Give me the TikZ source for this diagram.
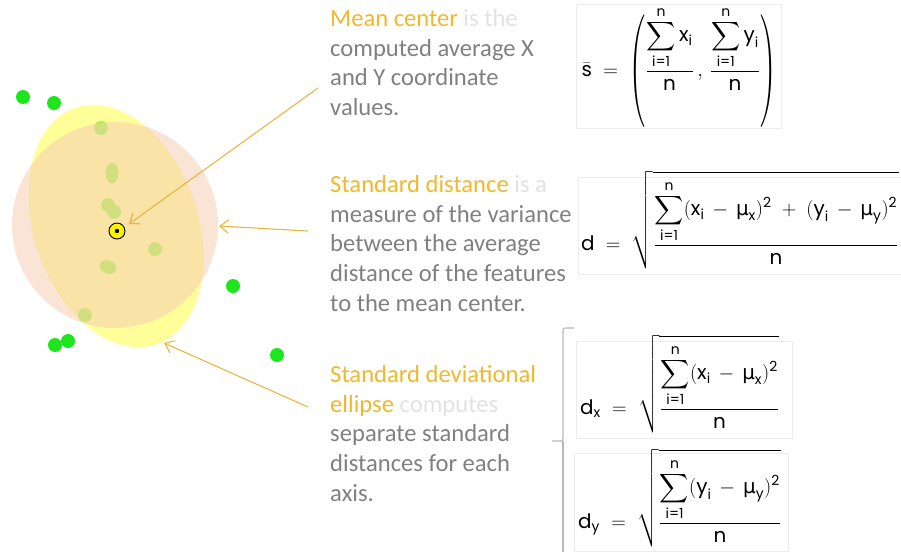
\documentclass[tikz,border=0pt]{standalone}
\usepackage{amsmath}
\usepackage{graphicx}
\usepackage{fontspec}
\setmainfont{Carlito}
\newfontfamily\formfont{Poppins}
\newfontfamily\mufont{DejaVu Sans}
\usetikzlibrary{arrows.meta, positioning, shapes.geometric}

\definecolor{ptgreen}{HTML}{1EE61E}
\definecolor{callgold}{HTML}{E8B43C}
\definecolor{headgold}{HTML}{F0B82C}
\definecolor{bodygray}{HTML}{808080}
\definecolor{ghostgray}{HTML}{E2E2E2}
\definecolor{sdefill}{HTML}{FFFF55}
\definecolor{sdfill}{HTML}{F6CDB4}

\newcommand\fv[1]{\text{\formfont #1}}
\newcommand\fmu{\text{\mufont μ}}
\newcommand\hl[1]{\textcolor{headgold}{#1}}
\newcommand\gh[1]{\textcolor{ghostgray}{#1}}
\newcommand\fsum{\displaystyle\sum\limits_{\fv{i=1}}^{\fv{n}}}
\newcommand\tallparen[1]{\vcenter{\hbox{\scalebox{1}[1.85]{$\Bigg#1$}}}}

\tikzset{
  pt/.style={circle, fill=ptgreen, inner sep=0pt, minimum size=0.42cm},
  note/.style={anchor=base west, align=left, inner sep=0pt, text=bodygray,
    font=\fontsize{21}{25.2}\selectfont},
  formbox/.style={draw=gray!15, fill=white, inner sep=0pt},
  formula/.style={inner sep=0pt, font=\fontsize{17}{20}\selectfont},
  callout/.style={draw=callgold, line width=0.9pt, -{Straight Barb[length=2.6mm,width=4mm]}},
}

\begin{document}
\begin{tikzpicture}[x=0.03cm, y=-0.03cm]
  \useasboundingbox (0,0) rectangle (901,552);

  % points
  \foreach \px/\py [count=\k] in {23/97, 54/103, 101/128, 108/205, 114/212, 155/249,
      233/286, 85/315, 55/345, 68/341, 277/355}
    \node[pt] (p\k) at (\px,\py) {};
  \node[pt, ellipse, minimum width=0.38cm, minimum height=0.62cm] (p12) at (112,173) {};
  \node[pt, ellipse, minimum width=0.52cm, minimum height=0.4cm, rotate=-20] (p13) at (108,267) {};

  % standard deviational ellipse and standard distance
  \fill[sdefill, opacity=0.6, rotate around={19:(116,226)}]
    (116,226) ellipse [x radius=82, y radius=125];
  \fill[sdfill, opacity=0.55] (115,225) circle [radius=103];

  % mean center
  \node[circle, draw=black, fill=yellow, line width=0.8pt, inner sep=0pt,
    minimum size=0.48cm] (mc) at (117,231) {};
  \fill[black] (mc) circle [radius=2.2];

  % texts (base = last line)
  \node[note] (t1) at (330,115.5) {\hl{Mean center} \gh{is the}\\computed average X\\and Y coordinate\\values.};
  \node[note] (t2) at (330,311) {\hl{Standard distance} \gh{is a}\\measure of the variance\\between the average\\distance of the features\\to the mean center.};
  \node[note] (t3) at (330,501) {\hl{Standard deviational}\\\hl{ellipse} \gh{computes}\\separate standard\\distances for each\\axis.};

  % callouts
  \coordinate (c1) at (318,88);
  \coordinate (h1) at (129,224);
  \coordinate (c2) at (308,231);
  \coordinate (h2) at (219,226);
  \coordinate (c3) at (308,407);
  \coordinate (h3) at (164,343);
  \draw[callout] (c1) -- (h1);
  \draw[callout] (c2) -- (h2);
  \draw[callout] (c3) -- (h3);

  % formula boxes
  \node[formbox, minimum width=6.15cm, minimum height=3.72cm] (meanbox) at (678.5,66) {};
  \node[formula] (meanf) at (679,67)
    {$\displaystyle \bar{\fv{s}} \;=\; \mathopen{\tallparen(}
      \frac{\fsum \fv{x}_{\fv{i}}}{\fv{n}} \,,\,
      \frac{\fsum \fv{y}_{\fv{i}}}{\fv{n}}
      \mathclose{\tallparen)}$};
  \node[formbox, minimum width=9.8cm, minimum height=2.9cm, anchor=west] (distbox) at (578,225.5) {};
  \node[formula, anchor=west] (distf) at (581,220)
    {$\displaystyle \fv{d} \;=\; \sqrt{\frac{\fsum
      (\fv{x}_{\fv{i}} \,-\, \fmu_{\fv{x}})^{\fv{2}} \;+\; (\fv{y}_{\fv{i}} \,-\, \fmu_{\fv{y}})^{\fv{2}}}{\fv{n}}}$};
  \node[formbox, minimum width=6.48cm, minimum height=2.91cm] (dxbox) at (684,389.5) {};
  \node[formula, anchor=west] (dxf) at (580,384)
    {$\displaystyle \fv{d}_{\fv{x}} \;=\; \sqrt{\frac{\fsum
      (\fv{x}_{\fv{i}} \,-\, \fmu_{\fv{x}})^{\fv{2}}}{\fv{n}}}$};
  \node[formbox, minimum width=6.42cm, minimum height=2.94cm] (dybox) at (681,502) {};
  \node[formula, anchor=west] (dyf) at (578,498)
    {$\displaystyle \fv{d}_{\fv{y}} \;=\; \sqrt{\frac{\fsum
      (\fv{y}_{\fv{i}} \,-\, \fmu_{\fv{y}})^{\fv{2}}}{\fv{n}}}$};

  % bracket
  \draw[gray!55, line width=1pt, rounded corners=2pt] (574,328) -| (563,441) -- (552,441);
  \draw[gray!55, line width=1pt] (563,441) -- (563,552);
\end{tikzpicture}
\end{document}
